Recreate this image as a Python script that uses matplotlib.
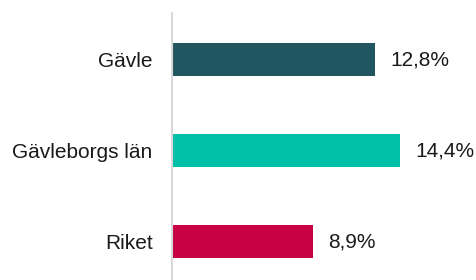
import matplotlib

matplotlib.use("Agg")
import matplotlib.pyplot as plt

categories = ["Gävle", "Gävleborgs län", "Riket"]
values = [12.8, 14.4, 8.9]
value_labels = ["12,8%", "14,4%", "8,9%"]
colors = ["#215660", "#00C0A8", "#C80044"]

plt.rcParams["font.family"] = ["Liberation Sans", "DejaVu Sans"]

fig = plt.figure(figsize=(4.77, 2.80), dpi=100)
ax = fig.add_axes([172 / 477, 0.0, 1 - 172 / 477, 1 - 13 / 280])

ypos = range(len(categories))
ax.barh(ypos, values, height=0.363, color=colors)
ax.set_ylim(2 + 38.5 / 91, -0.511)
ax.set_xlim(0, 305 / 15.86)

for y, v, lab in zip(ypos, values, value_labels):
    ax.annotate(lab, (v, y), xytext=(11, 0), textcoords="offset points",
                va="center", ha="left", fontsize=15, color="#1a1a1a")

ax.set_yticks(list(ypos))
ax.set_yticklabels(categories, fontsize=15, color="#1a1a1a")
ax.tick_params(axis="y", length=0, pad=14)
ax.set_xticks([])

for s in ["top", "right", "bottom"]:
    ax.spines[s].set_visible(False)
ax.spines["left"].set_color("#D9D9D9")
ax.spines["left"].set_linewidth(1.5)

fig.savefig("out.png", dpi=100)
